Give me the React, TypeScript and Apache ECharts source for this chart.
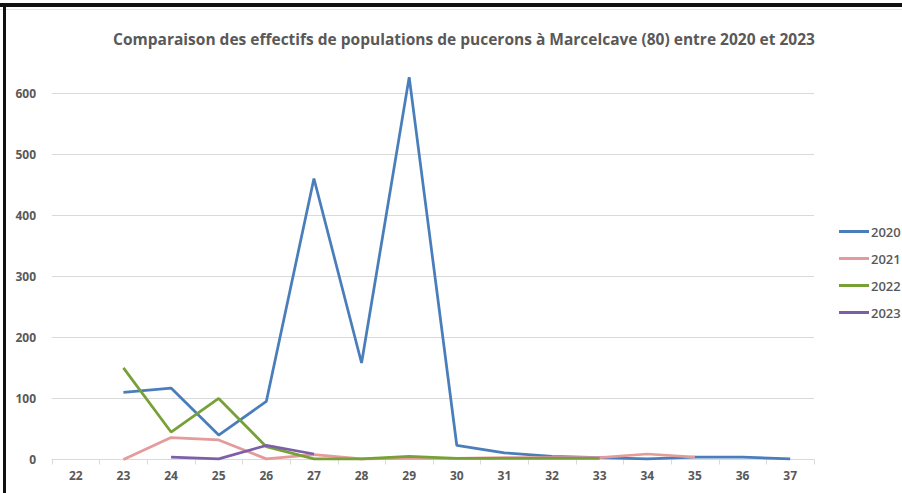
import React, { useEffect, useRef } from "react";
import * as echarts from "echarts";

const weeks = ["22", "23", "24", "25", "26", "27", "28", "29", "30", "31", "32", "33", "34", "35", "36", "37"];
const y2020 = [null, 110, 117, 40, 95, 460, 158, 626, 23, 11, 5, 3, 1, 4, 4, 1];
const y2021 = [null, 0, 36, 32, 1, 8, 1, 2, 2, 3, 3, 3, 9, 4, null, null];
const y2022 = [null, 150, 45, 100, 21, 1, 1, 5, 2, 2, 2, 2, null, null, null, null];
const y2023 = [null, null, 4, 1, 23, 9, null, null, null, null, null, null, null, null, null, null];
const yTicks = [0, 100, 200, 300, 400, 500, 600];
const seriesNames = ["2020", "2021", "2022", "2023"];
const colors = ["#4a7ebb", "#e39b9b", "#77a137", "#7c5fa6"];
const title = "Comparaison des effectifs de populations de pucerons à Marcelcave (80) entre 2020 et 2023";

export default function App() {
  const ref = useRef<HTMLDivElement>(null);
  useEffect(() => {
    document.body.style.margin = "0";
    const chart = echarts.init(ref.current!, null, { renderer: "svg" });
    const data = [y2020, y2021, y2022, y2023];
    chart.setOption({
      animation: false,
      backgroundColor: "#ffffff",
      title: {
        text: title,
        left: 459,
        textAlign: "center",
        top: 26,
        textStyle: { fontFamily: "Open Sans", fontSize: 15.5, fontWeight: "bold", color: "#595959" },
      },
      legend: {
        orient: "vertical",
        left: 834,
        top: 220,
        itemWidth: 30,
        itemHeight: 3,
        itemGap: 14,
        icon: "rect",
        data: seriesNames,
        textStyle: { fontFamily: "Open Sans", fontSize: 13, fontWeight: 600, color: "#595959", padding: [0, 0, 0, -3] },
      },
      grid: { left: 52, right: 88, top: 93, bottom: 33.5 },
      xAxis: {
        type: "category",
        data: weeks,
        boundaryGap: true,
        axisLine: { lineStyle: { color: "#d9d9d9" } },
        axisTick: { show: true, length: 5, lineStyle: { color: "#d9d9d9" } },
        axisLabel: { fontFamily: "Open Sans", fontSize: 12, fontWeight: "bold", color: "#595959", margin: 10 },
      },
      yAxis: {
        type: "value",
        min: 0,
        max: yTicks[yTicks.length - 1],
        interval: 100,
        axisLine: { show: false },
        axisTick: { show: false },
        splitLine: { lineStyle: { color: "#d9d9d9", width: 1 } },
        axisLabel: { fontFamily: "Open Sans", fontSize: 12, fontWeight: "bold", color: "#595959", margin: 16 },
      },
      series: seriesNames.map((name, i) => ({
        name,
        type: "line",
        data: data[i],
        showSymbol: false,
        symbol: "none",
        clip: false,
        connectNulls: false,
        lineStyle: { color: colors[i], width: 2.75 },
        itemStyle: { color: colors[i] },
      })),
      graphic: [
        { type: "rect", left: 0, top: 9, shape: { width: 902, height: 1 }, style: { fill: "#e6e6e6" }, z: 100 },
        { type: "rect", left: 0, top: 3, shape: { width: 902, height: 4 }, style: { fill: "#111111" }, z: 101 },
        { type: "rect", left: 3, top: 3, shape: { width: 3, height: 490 }, style: { fill: "#111111" }, z: 101 },
      ],
    });
    return () => chart.dispose();
  }, []);
  return <div ref={ref} style={{ width: 902, height: 493 }} />;
}
